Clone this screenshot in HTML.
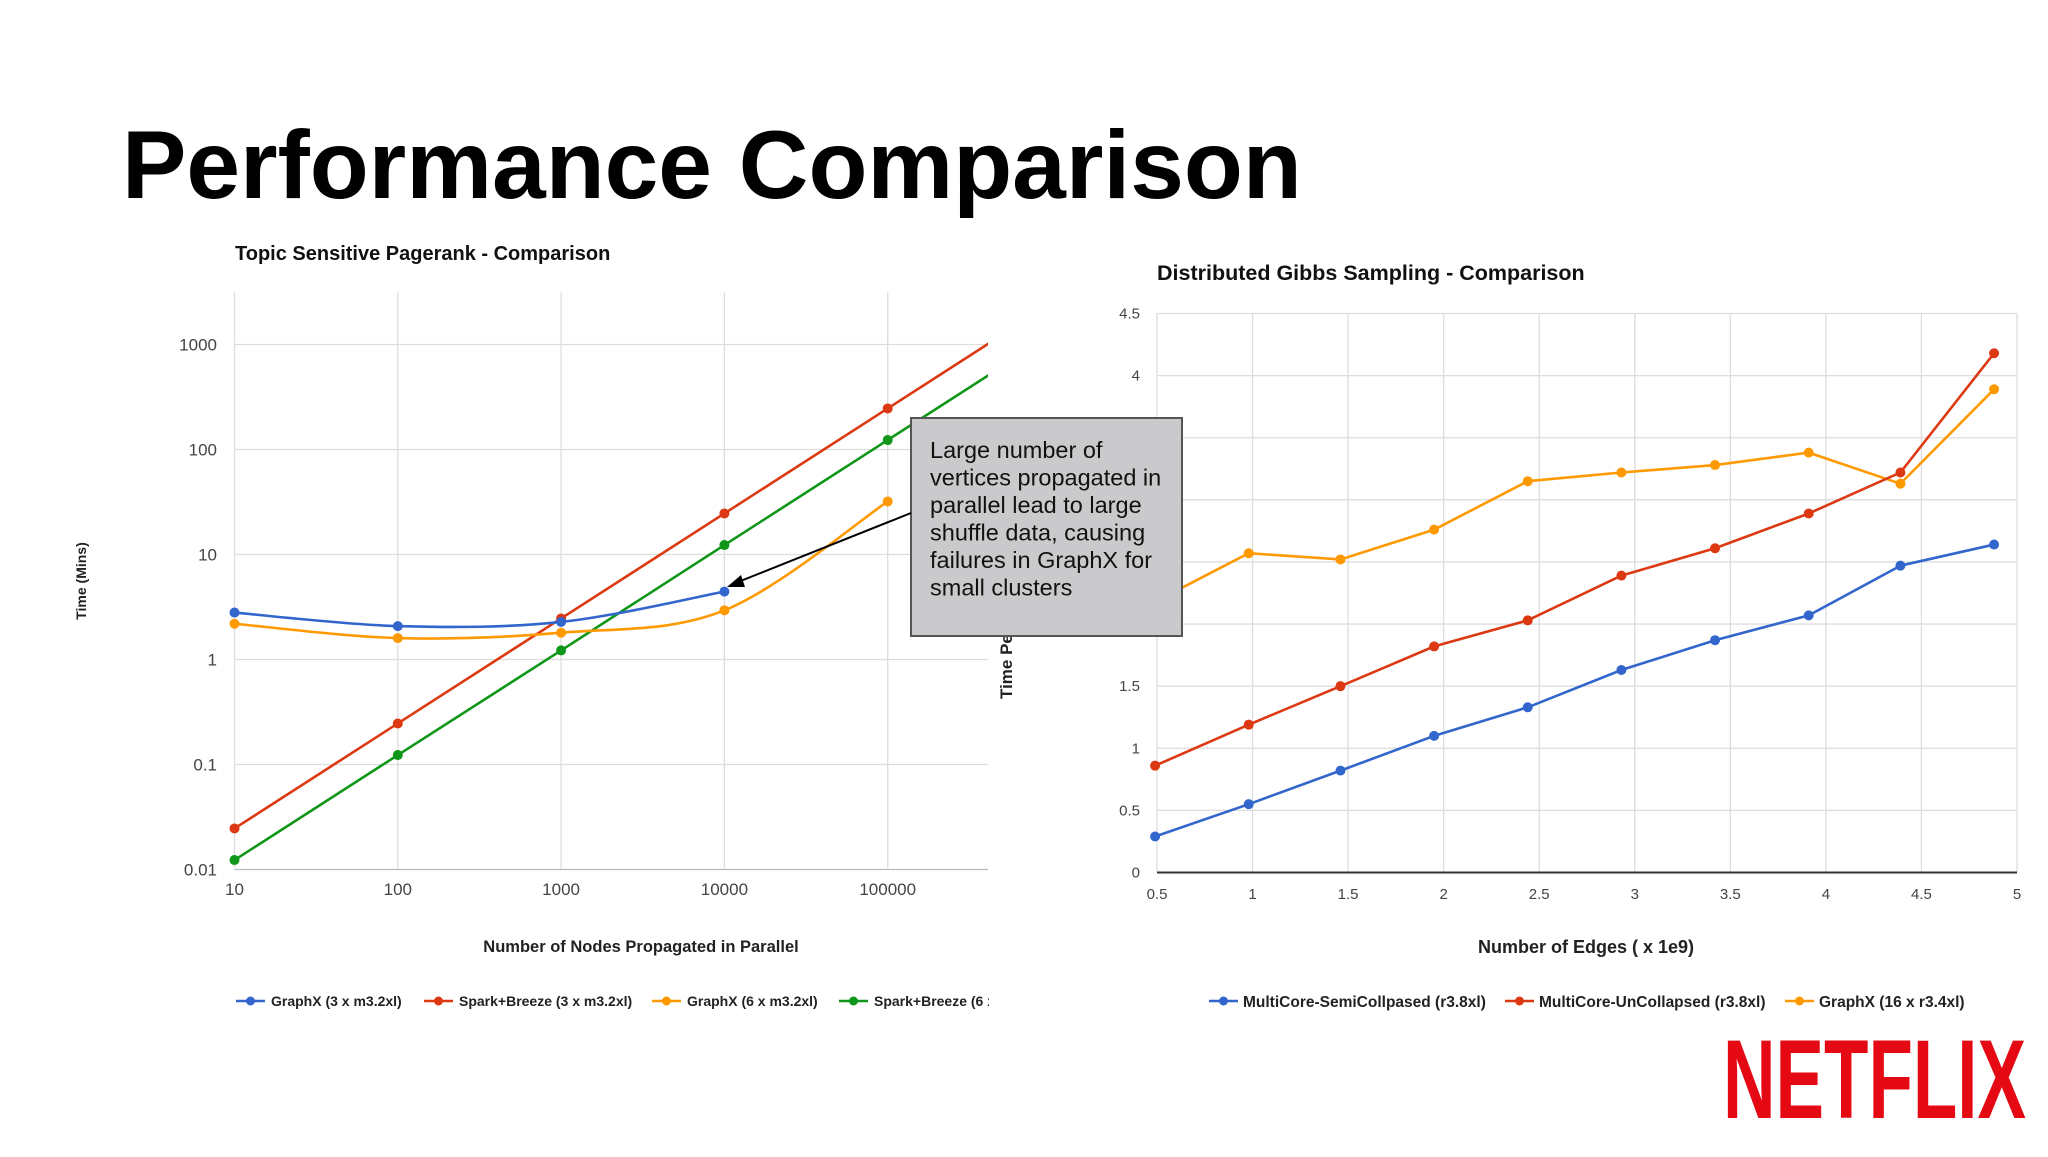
<!DOCTYPE html>
<html><head><meta charset="utf-8"><style>
html,body{margin:0;padding:0;background:#fff;}
body{width:2048px;height:1152px;overflow:hidden;position:relative;font-family:"Liberation Sans",sans-serif;}
svg text{font-family:"Liberation Sans",sans-serif;}
</style></head><body>
<svg id="s" width="2048" height="1152" viewBox="0 0 2048 1152" xmlns="http://www.w3.org/2000/svg">
<text x="122" y="198" font-size="96.5" font-weight="bold" fill="#000">Performance Comparison</text>
<text x="235" y="260" font-size="20" font-weight="bold" fill="#111">Topic Sensitive Pagerank - Comparison</text>
<text x="1157" y="280" font-size="21.5" font-weight="bold" fill="#111">Distributed Gibbs Sampling - Comparison</text>
<text transform="translate(86,581) rotate(-90)" text-anchor="middle" font-size="14" font-weight="bold" fill="#222">Time (Mins)</text>
<text transform="translate(1012,699) rotate(-90)" text-anchor="start" font-size="17" font-weight="bold" fill="#222">Time Per Iteration (mins)</text>
<text x="641" y="952" text-anchor="middle" font-size="16.5" font-weight="bold" fill="#222">Number of Nodes Propagated in Parallel</text>
<text x="1586" y="953" text-anchor="middle" font-size="18" font-weight="bold" fill="#222">Number of Edges ( x 1e9)</text>
<g id="L"></g><g id="R"></g>
<g>
<rect x="911" y="418" width="271" height="218" fill="#cacacc" stroke="#555" stroke-width="2"/>
<text font-size="23.5" fill="#111">
<tspan x="930" y="458">Large number of</tspan><tspan x="930" y="485.5">vertices propagated in</tspan><tspan x="930" y="513">parallel lead to large</tspan><tspan x="930" y="540.5">shuffle data, causing</tspan><tspan x="930" y="568">failures in GraphX for</tspan><tspan x="930" y="595.5">small clusters</tspan></text>
<line x1="911" y1="513" x2="738" y2="582" stroke="#000" stroke-width="2"/>
<polygon points="727,587 741,575 745,587" fill="#000"/>
</g>
<text x="1723" y="1118" font-size="112" font-weight="bold" fill="#e50914" textLength="303" lengthAdjust="spacingAndGlyphs">NETFLIX</text>
</svg>
<script>
// Left chart data (log-log)
const leftX = [10, 100, 1000, 10000, 100000, 1000000];
const leftXTicks = ["10","100","1000","10000","100000"];
const leftYTicks = ["0.01","0.1","1","10","100","1000"];
const blueL = [2.8, 2.08, 2.28, 4.43];
const orangeL = [2.19, 1.6, 1.8, 2.94, 32];
const redL = [0.0246, 0.246, 2.46, 24.6, 246, 2460];
const greenL = [0.0123, 0.123, 1.22, 12.3, 123, 1230];
const leftNames = ["GraphX (3 x m3.2xl)","Spark+Breeze (3 x m3.2xl)","GraphX (6 x m3.2xl)","Spark+Breeze (6 x m3.2xl)"];
// Right chart data
const rightX = [0.49, 0.98, 1.46, 1.95, 2.44, 2.93, 3.42, 3.91, 4.39, 4.88];
const rightXTicks = ["0.5","1","1.5","2","2.5","3","3.5","4","4.5","5"];
const rightYTicks = ["0","0.5","1","1.5","2","2.5","3","3.5","4","4.5"];
const blueR = [0.29, 0.55, 0.82, 1.10, 1.33, 1.63, 1.87, 2.07, 2.47, 2.64];
const redR = [0.86, 1.19, 1.50, 1.82, 2.03, 2.39, 2.61, 2.89, 3.22, 4.18];
const orangeR = [2.18, 2.57, 2.52, 2.76, 3.15, 3.22, 3.28, 3.38, 3.13, 3.89];
const rightNames = ["MultiCore-SemiCollpased (r3.8xl)","MultiCore-UnCollapsed (r3.8xl)","GraphX (16 x r3.4xl)"];

const NS="http://www.w3.org/2000/svg";
function mk(p,tag,attrs){const e=document.createElementNS(NS,tag);for(const k in attrs)e.setAttribute(k,attrs[k]);p.appendChild(e);return e;}
const C={blue:"#3366cc",red:"#dc3912",orange:"#ff9900",green:"#109618"};

// Left axes
const LX0=234.5,LX1=988,LY0=292.5,LY1=868.5;
const lx=v=>LX0+(Math.log10(v)-1)*163.3;
const ly=v=>659.5-Math.log10(v)*105;
const L=document.getElementById('L');
const defs=mk(document.getElementById('s'),'defs',{});
const cp=mk(defs,'clipPath',{id:'lc'});mk(cp,'rect',{x:LX0-8,y:LY0,width:LX1-LX0+8,height:LY1-LY0+8});
leftXTicks.forEach(t=>{const v=+t,x=lx(v);
 const g=mk(L,'line',{x1:x,y1:LY0,x2:x,y2:LY1,stroke:"#ddd","stroke-width":1.3});
 
 
 const tx=mk(L,'text',{x:x,y:895,"text-anchor":"middle","font-size":17,fill:"#444"});tx.textContent=t;
 
 
});
leftYTicks.forEach(t=>{const v=+t,y=ly(v);
 const g=mk(L,'line',{x1:LX0,y1:y,x2:LX1,y2:y,stroke:v===0.01?"#bbb":"#ddd","stroke-width":1.3});
 
 
 const tx=mk(L,'text',{x:217,y:y+6,"text-anchor":"end","font-size":17,fill:"#444"});tx.textContent=t;
 
 
});
function smooth(pts){let d=`M${pts[0][0]},${pts[0][1]}`;
 for(let i=0;i<pts.length-1;i++){const p0=pts[i-1]||pts[i],p1=pts[i],p2=pts[i+1],p3=pts[i+2]||p2;
  const c1=[p1[0]+(p2[0]-p0[0])/6,p1[1]+(p2[1]-p0[1])/6],c2=[p2[0]-(p3[0]-p1[0])/6,p2[1]-(p3[1]-p1[1])/6];
  d+=` C${c1[0]},${c1[1]} ${c2[0]},${c2[1]} ${p2[0]},${p2[1]}`;}return d;}
function seriesL(vals,col,name,curve){
 const g=mk(L,'g',{"clip-path":"url(#lc)"});
 
 
 const pts=vals.map((v,i)=>[lx(leftX[i]),ly(v)]);
 const d=curve?smooth(pts):"M"+pts.map(p=>p.join(",")).join(" L");
 mk(g,'path',{d:d,fill:"none",stroke:col,"stroke-width":2.6});
 pts.forEach(p=>{if(p[0]<=LX1){const c=mk(g,'circle',{cx:p[0],cy:p[1],r:5,fill:col});
  
  }});
}
seriesL(redL,C.red,'series-spark-breeze-3',false);
seriesL(greenL,C.green,'series-spark-breeze-6',false);
seriesL(orangeL,C.orange,'series-graphx-6',true);
seriesL(blueL,C.blue,'series-graphx-3',true);
// left legend
const lcols=[C.blue,C.red,C.orange,C.green],lpos=[236,424,652,839];
const lcl=mk(defs,'clipPath',{id:'llc'});mk(lcl,'rect',{x:0,y:980,width:989,height:40});
const lg=mk(L,'g',{"clip-path":"url(#llc)"});
leftNames.forEach((n,i)=>{const x=lpos[i];
 const e=mk(lg,'g',{});
 
 
 mk(e,'line',{x1:x,y1:1001,x2:x+29,y2:1001,stroke:lcols[i],"stroke-width":2.6});
 mk(e,'circle',{cx:x+14.5,cy:1001,r:4.5,fill:lcols[i]});
 const t=mk(e,'text',{x:x+35,y:1006,"font-size":14,"font-weight":"bold",fill:"#222"});t.textContent=n;
});

// Right axes
const RX0=1157,RX1=2017,RYT=313.5,RYB=872.5;
const rx=v=>RX0+(v-0.5)/4.5*(RX1-RX0);
const ry=v=>RYB-v/4.5*(RYB-RYT);
const R=document.getElementById('R');
rightXTicks.forEach(t=>{const x=rx(+t);
 const g=mk(R,'line',{x1:x,y1:RYT,x2:x,y2:RYB,stroke:"#ddd","stroke-width":1.3});
 
 
 const tx=mk(R,'text',{x:x,y:899,"text-anchor":"middle","font-size":15,fill:"#444"});tx.textContent=t;
 
 
});
rightYTicks.forEach(t=>{const y=ry(+t);
 const g=mk(R,'line',{x1:RX0,y1:y,x2:RX1,y2:y,stroke:+t===0?"#333":"#ddd","stroke-width":+t===0?2:1.3});
 
 
 const tx=mk(R,'text',{x:1140,y:y+5,"text-anchor":"end","font-size":15,fill:"#444"});tx.textContent=t;
 
 
});
function seriesR(vals,col,name){
 const g=mk(R,'g',{});
 
 
 const pts=vals.map((v,i)=>[rx(rightX[i]),ry(v)]);
 mk(g,'path',{d:"M"+pts.map(p=>p.join(",")).join(" L"),fill:"none",stroke:col,"stroke-width":2.6});
 pts.forEach(p=>{const c=mk(g,'circle',{cx:p[0],cy:p[1],r:5,fill:col});
  
  });
}
seriesR(orangeR,C.orange,'series-graphx-16');
seriesR(blueR,C.blue,'series-semicollapsed');
seriesR(redR,C.red,'series-uncollapsed');
const rcols=[C.blue,C.red,C.orange],rpos=[1209,1505,1785];
rightNames.forEach((n,i)=>{const x=rpos[i];
 const e=mk(R,'g',{});
 
 
 mk(e,'line',{x1:x,y1:1001,x2:x+29,y2:1001,stroke:rcols[i],"stroke-width":2.6});
 mk(e,'circle',{cx:x+14.5,cy:1001,r:4.5,fill:rcols[i]});
 const t=mk(e,'text',{x:x+34,y:1007,"font-size":15.5,"font-weight":"bold",fill:"#222"});t.textContent=n;
});
</script>
</body></html>
